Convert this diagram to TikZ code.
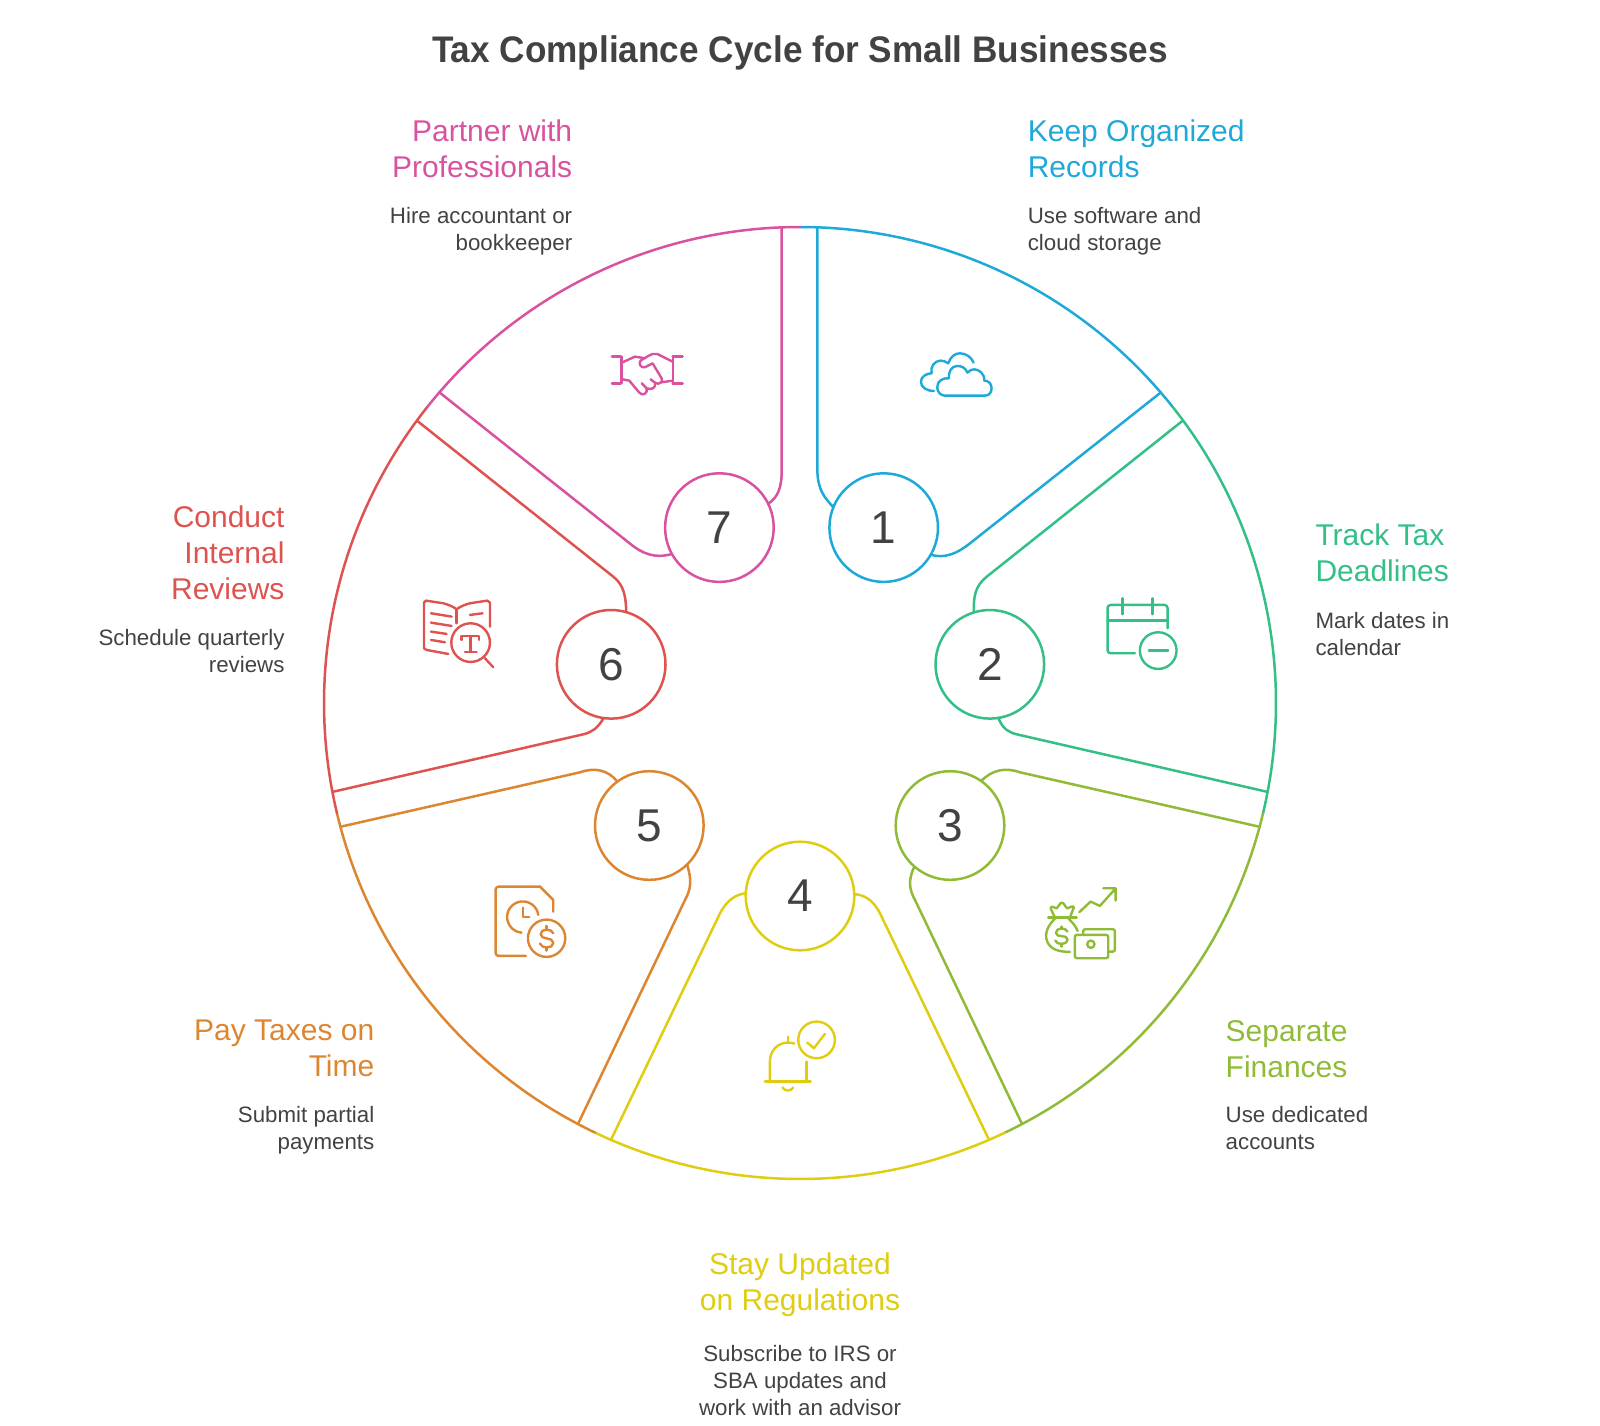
\documentclass[tikz,border=0pt]{standalone}
\usepackage{fontspec}
\setmainfont{Liberation Sans}
\newfontfamily\titlefont[FakeStretch=.95]{Liberation Sans Bold}
\definecolor{cblue}{HTML}{1EA9D9}
\definecolor{cgreen}{HTML}{33BF86}
\definecolor{colive}{HTML}{8FBB36}
\definecolor{cyellow}{HTML}{E0CD12}
\definecolor{corange}{HTML}{DD8632}
\definecolor{cred}{HTML}{DE5350}
\definecolor{cpink}{HTML}{D9529F}
\definecolor{cink}{HTML}{424242}
\tikzset{
  x=1pt,y=-1pt,
  seg/.style={line width=2.5pt,line cap=round,line join=round},
  numdisc/.style={circle,line width=2.5pt,minimum size=108.6pt,inner sep=0pt,outer sep=0pt,text=cink,font=\fontsize{46}{46}\selectfont},
  titletext/.style={inner sep=0pt,text=cink,font=\fontsize{37}{40}\titlefont},
  headtext/.style={inner sep=0pt,font=\fontsize{30}{36}\selectfont},
  desctext/.style={inner sep=0pt,text=cink,font=\fontsize{22.3}{27}\selectfont},
  icon/.style={line width=2.4pt,line cap=round,line join=round,x=.3333pt,y=-.3333pt},
}
\begin{document}
\begin{tikzpicture}
\useasboundingbox (0,0) rectangle (1600,1425);
\coordinate (ctr) at (800,703);
\node[titletext,anchor=base] (title) at (800,62) {Tax Compliance Cycle for Small Businesses};

% number discs
\node[numdisc,draw=cblue] (n1) at (883.7,527.6) {1};
\node[numdisc,draw=cgreen] (n2) at (989.8,664.3) {2};
\node[numdisc,draw=colive] (n3) at (950,825.5) {3};
\node[numdisc,draw=cyellow] (n4) at (800,896) {4};
\node[numdisc,draw=corange] (n5) at (649.3,825.5) {5};
\node[numdisc,draw=cred] (n6) at (611.2,664.3) {6};
\node[numdisc,draw=cpink] (n7) at (719.4,527.6) {7};

% outer arcs
\draw[seg,cblue] (-90:476) ++(800,703) arc[start angle=-90,end angle=-38.5,radius=476];
\draw[seg,cgreen] (-38.5:476) ++(800,703) arc[start angle=-38.5,end angle=13.4,radius=476];
\draw[seg,colive] (13.4:476) ++(800,703) arc[start angle=13.4,end angle=64.5,radius=476];
\draw[seg,cyellow] (64.5:476) ++(800,703) arc[start angle=64.5,end angle=115.5,radius=476];
\draw[seg,corange] (115.5:476) ++(800,703) arc[start angle=115.5,end angle=166.6,radius=476];
\draw[seg,cred] (166.6:476) ++(800,703) arc[start angle=166.6,end angle=218.5,radius=476];
\draw[seg,cpink] (218.5:476) ++(800,703) arc[start angle=218.5,end angle=270,radius=476];

% spokes, disc to rim
\draw[seg,cblue] (n1.158) .. controls (825,498) and (817.4,490) .. (817.4,470) -- (817.4,227.3);
\draw[seg,cblue] (n1.-30.6) .. controls (945,559) and (958,553) .. (970,543.3) -- (1161,392.3);
\draw[seg,cgreen] (n2.107.4) .. controls (973.3,597) and (975,586) .. (986.7,576.7) -- (1182.7,420.7);
\draw[seg,cgreen] (n2.-81.8) .. controls (1003,729) and (1008,732) .. (1016.7,734.3) -- (1266.7,791.7);
\draw[seg,colive] (n3.55.6) .. controls (992,770) and (1005,767) .. (1020,772.3) -- (1259.3,826.7);
\draw[seg,colive] (n3.-131.4) .. controls (908,880) and (909,889) .. (915,900) -- (1021.7,1123.3);
\draw[seg,cyellow] (n4.2.9) .. controls (868,895) and (875,904) .. (880,913.3) -- (988.3,1138.3);
\draw[seg,cyellow] (n4.177.1) .. controls (732,895) and (725,904) .. (720,913.3) -- (611.7,1138.3);
\draw[seg,corange] (n5.-46.6) .. controls (692,880) and (691,889) .. (685,900) -- (578.3,1123.3);
\draw[seg,corange] (n5.126) .. controls (608,770) and (595,767) .. (580,772.3) -- (340.7,826.7);
\draw[seg,cred] (n6.-98.8) .. controls (597,729) and (592,732) .. (583.3,734.3) -- (333.3,791.7);
\draw[seg,cred] (n6.74.3) .. controls (626,597) and (624,585) .. (613.3,576.7) -- (417,420.7);
\draw[seg,cpink] (n7.-151) .. controls (655,559) and (642,553.5) .. (630,543.6) -- (439.3,392.3);
\draw[seg,cpink] (n7.26) .. controls (778,497) and (781.7,488) .. (781.7,470) -- (781.7,227.3);

% labels
\node[headtext,cblue,anchor=north west,align=left] (h1) at (1027.6,120) {Keep Organized\\Records};
\node[desctext,anchor=north west,align=left] (d1) at (1027.6,207) {Use software and\\cloud storage};
\node[headtext,cgreen,anchor=north west,align=left] (h2) at (1315.3,524) {Track Tax\\Deadlines};
\node[desctext,anchor=north west,align=left] (d2) at (1315.3,612) {Mark dates in\\calendar};
\node[headtext,colive,anchor=north west,align=left] (h3) at (1225.5,1020) {Separate\\Finances};
\node[desctext,anchor=north west,align=left] (d3) at (1225.5,1106) {Use dedicated\\accounts};
\node[headtext,cyellow,anchor=north,align=center] (h4) at (800,1253) {Stay Updated\\on Regulations};
\node[desctext,anchor=north,align=center] (d4) at (800,1345) {Subscribe to IRS or\\SBA updates and\\work with an advisor};
\node[headtext,corange,anchor=north east,align=right] (h5) at (374.5,1020) {Pay Taxes on\\Time};
\node[desctext,anchor=north east,align=right] (d5) at (374.5,1106) {Submit partial\\payments};
\node[headtext,cred,anchor=north east,align=right] (h6) at (284.7,506) {Conduct\\Internal\\Reviews};
\node[desctext,anchor=north east,align=right] (d6) at (284.7,629) {Schedule quarterly\\reviews};
\node[headtext,cpink,anchor=north east,align=right] (h7) at (572.4,120) {Partner with\\Professionals};
\node[desctext,anchor=north east,align=right] (d7) at (572.4,207) {Hire accountant or\\bookkeeper};

% cloud
\begin{scope}[icon,cblue,shift={(2640,990)}]
\draw (195,197) -- (315,197) .. controls (330,197) and (335,185) .. (335,175) .. controls (335,160) and (325,152) .. (313,152) .. controls (315,130) and (295,118) .. (283,118) .. controls (275,118) and (268,122) .. (263,128) .. controls (255,112) and (245,108) .. (232,108) .. controls (215,108) and (205,125) .. (207,145) .. controls (190,143) and (172,152) .. (172,172) .. controls (172,187) and (183,197) .. (195,197) -- cycle;
\draw (162,183) .. controls (140,183) and (123,172) .. (123,155) .. controls (123,140) and (140,130) .. (155,130) .. controls (150,110) and (165,92) .. (182,92) .. controls (190,92) and (198,95) .. (205,100) .. controls (212,80) and (225,70) .. (240,70) .. controls (258,70) and (275,82) .. (281,98);
\end{scope}
% calendar
\begin{scope}[icon,cgreen,shift={(2640,990)}]
\draw[rounded corners=3pt] (765,970) -- (683,970) -- (683,825) -- (863,825) -- (863,895);
\draw (683,872) -- (863,872) (728,805) -- (728,853) (818,805) -- (818,853) (807,962) -- (865,962);
\draw (835,962) circle[radius=55];
\end{scope}
% money bag
\begin{scope}[icon,colive,shift={(3060,2610)}]
\draw (85,143) -- (170,143);
\draw (105,143) -- (92,115) .. controls (95,105) and (105,115) .. (110,115) .. controls (115,112) and (120,98) .. (126,98) .. controls (132,98) and (137,112) .. (142,115) .. controls (148,115) and (158,105) .. (162,112) -- (150,143);
\draw (108,143) .. controls (85,165) and (72,190) .. (82,215) .. controls (92,240) and (120,246) .. (150,246);
\draw (143,143) .. controls (155,155) and (168,168) .. (173,183);
\draw (125,170) -- (125,177) (125,222) -- (125,230);
\draw (143,185) .. controls (138,172) and (108,172) .. (108,189) .. controls (108,205) and (143,192) .. (143,209) .. controls (143,226) and (110,226) .. (106,212);
\draw[rounded corners=2pt] (165,195) rectangle (265,265);
\draw[rounded corners=2pt] (190,195) -- (190,178) -- (285,178) -- (285,245) -- (265,245);
\draw (213,223) circle[radius=11];
\draw (178,127) -- (212,95) -- (240,108) -- (285,58) (250,55) -- (287,55) -- (287,92);
\end{scope}
% bell
\begin{scope}[icon,cyellow,shift={(1410,2580)}]
\draw (885,665) -- (1022,665);
\draw (900,662) -- (900,605) .. controls (900,570) and (925,548) .. (955,548) .. controls (962,548) and (968,549) .. (973,551);
\draw (1010,605) -- (1010,662);
\draw (955,530) -- (955,548);
\draw (938,683) .. controls (945,695) and (962,695) .. (970,683);
\draw (1040,540) circle[radius=55];
\draw (1012,548) -- (1032,565) -- (1065,522);
\end{scope}
% document, clock and dollar
\begin{scope}[icon,corange,shift={(1410,2580)}]
\draw[rounded corners=3pt] (168,288) -- (77,288) -- (77,80) -- (210,80);
\draw (210,80) -- (250,120) -- (250,155);
\draw (205,165) arc[start angle=-8,end angle=-265,radius=47];
\draw (160,143) -- (160,172) -- (178,172);
\draw (230,235) circle[radius=56];
\draw (230,198) -- (230,208) (230,262) -- (230,272);
\draw (250,220) .. controls (245,205) and (212,205) .. (212,223) .. controls (212,241) and (250,230) .. (250,249) .. controls (250,267) and (215,267) .. (210,251);
\end{scope}
% book and magnifier
\begin{scope}[icon,cred,shift={(1200,990)}]
\draw (145,972) -- (80,960) -- (72,955) -- (72,818) -- (78,812) -- (130,820) .. controls (145,824) and (160,830) .. (170,838) .. controls (180,830) and (195,824) .. (210,820) -- (262,812) -- (270,818) -- (270,890);
\draw (170,838) -- (170,880);
\draw (93,850) -- (155,860) (93,878) -- (155,888) (93,905) -- (140,912) (93,930) -- (135,937) (210,855) -- (248,850);
\draw (212,938) circle[radius=58];
\draw (255,985) -- (280,1012);
\draw (185,930) -- (185,918) -- (238,918) -- (238,930) (212,918) -- (212,965) (195,967) -- (230,967);
\end{scope}
% handshake
\begin{scope}[icon,cpink,shift={(1200,990)}]
\draw (636,80) -- (662,80) (636,160) -- (662,160) (665,80) -- (665,160);
\draw (818,80) -- (848,80) (818,160) -- (848,160) (820,80) -- (820,160);
\draw (668,97) -- (705,80) -- (730,84);
\draw (818,95) -- (772,72) .. controls (762,70) and (752,72) .. (745,78) -- (722,92) .. controls (715,100) and (722,115) .. (735,112) -- (758,100) -- (785,145) .. controls (790,152) and (780,168) .. (765,158) .. controls (770,172) and (755,182) .. (740,175) .. controls (745,190) and (728,200) .. (718,188) -- (688,152) -- (668,148);
\draw (785,157) -- (818,152);
\draw (752,148) -- (765,158) (725,160) -- (740,175);
\end{scope}
\end{tikzpicture}
\end{document}
